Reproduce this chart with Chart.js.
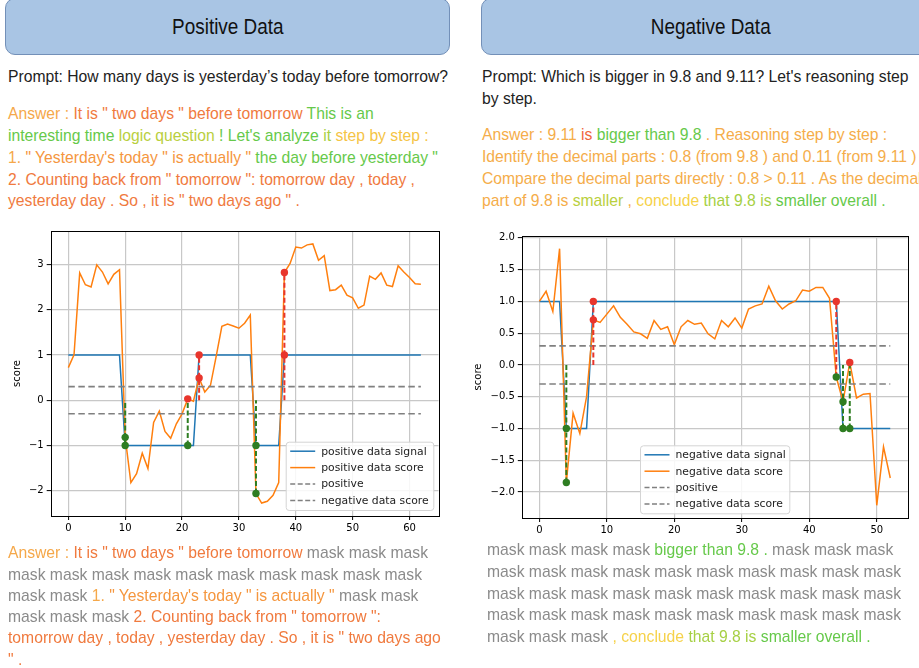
<!DOCTYPE html>
<html><head><meta charset="utf-8">
<script src="https://cdn.jsdelivr.net/npm/chart.js@4.4.1/dist/chart.umd.min.js"></script>
<style>
html,body{margin:0;padding:0;background:#fff;}
body{width:919px;height:668px;overflow:hidden;position:relative;}
.hdr{position:absolute;top:-2px;height:57px;background:#a9c5e4;border:1px solid #7390b8;border-radius:10px;box-sizing:border-box;display:flex;align-items:center;justify-content:center;font-family:"Liberation Sans",sans-serif;font-size:22px;color:#111;}
.hdr span{display:inline-block;transform:scaleX(0.86);}
.ln{position:absolute;white-space:nowrap;font-family:"Liberation Sans",Arial,sans-serif;font-size:15.7px;line-height:22px;height:22px;z-index:2;}
.k{color:#222}.a{color:#f5a84a}.r{color:#f07a3e}.g{color:#66c94a}.o{color:#b9cf3e}.y{color:#f5c445}.or{color:#f5963e}.m{color:#8b8b8b}.yg{color:#a6d044}.rd{color:#f0653c}.o2{color:#f5ad4a}.cy{color:#f6d24a}
.cv{position:absolute;z-index:1;}
</style></head><body>
<div class="hdr" style="left:5px;width:445px;"><span>Positive Data</span></div>
<div class="hdr" style="left:481px;width:460px;"><span>Negative Data</span></div>

<div class="ln k" style="left:8px;top:66px;">Prompt: How many days is yesterday’s today before tomorrow?</div>
<div class="ln" style="left:8px;top:103px;"><span class="a">Answer :</span><span class="r"> It is " two days " before tomorrow</span><span class="g"> This is an</span></div>
<div class="ln" style="left:8px;top:125px;"><span class="g">interesting time</span><span class="o"> logic question</span><span class="g"> ! Let's analyze</span><span class="yg"> it</span><span class="y"> step by step :</span></div>
<div class="ln" style="left:8px;top:147px;"><span class="a">1.</span><span class="or"> " Yesterday's today " is actually "</span><span class="g"> the day before yesterday "</span></div>
<div class="ln r" style="left:8px;top:168.5px;">2. Counting back from " tomorrow ": tomorrow day , today ,</div>
<div class="ln r" style="left:8px;top:190px;">yesterday day . So , it is " two days ago " .</div>

<div class="ln k" style="left:482px;top:66px;">Prompt: Which is bigger in 9.8 and 9.11? Let's reasoning step</div>
<div class="ln k" style="left:482px;top:88px;">by step.</div>
<div class="ln" style="left:482px;top:124px;"><span class="o2">Answer : 9.11</span><span class="rd"> is</span><span class="g"> bigger than 9.8</span><span class="o2"> . Reasoning step by step :</span></div>
<div class="ln o2" style="left:482px;top:146px;">Identify the decimal parts : 0.8 (from 9.8 ) and 0.11 (from 9.11 ) .</div>
<div class="ln o2" style="left:482px;top:168px;">Compare the decimal parts directly : 0.8 &gt; 0.11 . As the decimal</div>
<div class="ln" style="left:482px;top:189.5px;"><span class="o2">part of 9.8 is</span><span class="o"> smaller</span><span class="o2"> ,</span><span class="cy"> conclude</span><span class="yg"> that 9.8 is</span><span class="g"> smaller overall .</span></div>

<div class="ln" style="left:8px;top:542px;"><span class="a">Answer :</span><span class="r"> It is " two days " before tomorrow</span><span class="m"> mask mask mask</span></div>
<div class="ln m" style="left:8px;top:563.5px;">mask mask mask mask mask mask mask mask mask mask</div>
<div class="ln" style="left:8px;top:585px;"><span class="m">mask mask</span><span class="a"> 1.</span><span class="or"> " Yesterday's today " is actually "</span><span class="m"> mask mask</span></div>
<div class="ln" style="left:8px;top:606px;"><span class="m">mask mask mask</span><span class="r"> 2. Counting back from " tomorrow ":</span></div>
<div class="ln r" style="left:8px;top:627px;">tomorrow day , today , yesterday day . So , it is " two days ago</div>
<div class="ln r" style="left:8px;top:648.5px;">" .</div>

<div class="ln" style="left:487px;top:539px;"><span class="m">mask mask mask mask</span><span class="g"> bigger than 9.8 .</span><span class="m"> mask mask mask</span></div>
<div class="ln m" style="left:487px;top:561px;">mask mask mask mask mask mask mask mask mask mask</div>
<div class="ln m" style="left:487px;top:583px;">mask mask mask mask mask mask mask mask mask mask</div>
<div class="ln m" style="left:487px;top:604px;">mask mask mask mask mask mask mask mask mask mask</div>
<div class="ln" style="left:487px;top:626px;"><span class="m">mask mask mask</span><span class="cy"> , conclude</span><span class="yg"> that 9.8 is</span><span class="g"> smaller overall .</span></div>

<canvas id="posChart" class="cv" width="446" height="322" style="left:0px;top:222px;"></canvas>
<canvas id="negChart" class="cv" width="453" height="320" style="left:466px;top:227px;"></canvas>

<script>
// ---------------- DATA ----------------
const posSignal = [1,1,1,1,1,1,1,1,1,1,
  -1,-1,-1,-1,-1,-1,-1,-1,-1,-1,-1,-1,-1,
  1,1,1,1,1,1,1,1,1,1,
  -1,-1,-1,-1,-1,
  1,1,1,1,1,1,1,1,1,1,1,1,1,1,1,1,1,1,1,1,1,1,1,1,1];
const posScore = [0.72,1.0,2.81,2.55,2.5,2.99,2.83,2.57,2.78,2.88,
  -0.82,-1.82,-1.62,-1.17,-1.51,-0.49,-0.24,-0.69,-0.84,-0.52,
  -0.3,0.03,-0.02,0.49,0.18,0.33,0.97,1.63,1.68,1.64,
  1.59,1.7,1.88,-2.06,-2.27,-2.23,-2.1,-1.82,2.82,3.02,
  3.38,3.36,3.43,3.45,3.09,3.19,2.42,2.44,2.54,2.32,
  2.26,2.03,2.1,2.74,2.67,2.81,2.54,2.51,2.97,2.83,
  2.71,2.57,2.56];
const posHighlights = [10,21,23,33,38];

const negSignal = [1,1,1,1,-1,-1,-1,-1,
  1,1,1,1,1,1,1,1,1,1,1,1,1,1,1,1,1,1,1,1,1,1,1,1,1,1,1,1,1,1,1,1,1,1,1,1,1,
  -1,-1,-1,-1,-1,-1,-1,-1];
const negScore = [1.0,1.16,0.84,1.83,-1.85,-0.76,-1.08,-0.5,0.71,0.67,
  0.8,0.93,0.75,0.64,0.52,0.49,0.42,0.7,0.56,0.6,
  0.32,0.6,0.7,0.64,0.66,0.49,0.41,0.7,0.6,0.74,
  0.58,0.88,0.93,0.96,1.24,1.01,0.88,0.96,1.01,1.18,
  1.16,1.22,1.22,1.05,-0.19,-0.58,0.04,-0.52,-0.46,-0.45,
  -2.21,-1.29,-1.78];
const negHighlights = [4,8,44,45,46];

const thresholds = [0.3, -0.3];

const posXTicks = [0,10,20,30,40,50,60];
const posYTicks = [-2,-1,0,1,2,3];
const negXTicks = [0,10,20,30,40,50];
const negYTicks = [-2,-1.5,-1,-0.5,0,0.5,1,1.5,2];

const posLegendLabels = ['positive data signal','positive data score','positive','negative data score'];
const negLegendLabels = ['negative data signal','negative data score','positive','negative data score'];

// ---------------- STYLE ----------------
const BLUE = '#1f77b4', ORANGE = '#ff7f0e', GRAY = '#808080', RED = '#e8352c', GREEN = '#2e7d22';
const TICK_FONT = {family: 'DejaVu Sans', size: 10};

const framePlugin = {
  id: 'frame',
  afterDraw(chart) {
    const {ctx, chartArea: a} = chart;
    ctx.save();
    ctx.strokeStyle = '#000';
    ctx.lineWidth = 1;
    ctx.strokeRect(Math.round(a.left) + 0.5, Math.round(a.top) + 0.5, Math.round(a.right - a.left), Math.round(a.bottom - a.top));
    ctx.restore();
  }
};

const legendPlugin = {
  id: 'boxLegend',
  afterDraw(chart, args, opts) {
    const {ctx, chartArea: a} = chart;
    const w = opts.width, h = opts.height;
    const x0 = opts.anchor === 'right' ? a.right - opts.dx - w : a.left + opts.dx;
    const y0 = a.bottom - opts.dy - h;
    ctx.save();
    ctx.beginPath();
    ctx.roundRect(x0 + 0.5, y0 + 0.5, w, h, 3);
    ctx.fillStyle = 'rgba(255,255,255,0.85)';
    ctx.fill();
    ctx.strokeStyle = '#d4d4d4';
    ctx.lineWidth = 1;
    ctx.stroke();
    const styles = [
      {c: BLUE, dash: []}, {c: ORANGE, dash: []},
      {c: GRAY, dash: [5, 2.5]}, {c: GRAY, dash: [5, 2.5]}
    ];
    ctx.font = '10.8px "DejaVu Sans"';
    ctx.textBaseline = 'middle';
    opts.labels.forEach((lab, i) => {
      const yy = y0 + 9.5 + i * 16.4;
      ctx.beginPath();
      ctx.setLineDash(styles[i].dash);
      ctx.strokeStyle = styles[i].c;
      ctx.lineWidth = 1.5;
      ctx.moveTo(x0 + 4.5, yy);
      ctx.lineTo(x0 + 29.5, yy);
      ctx.stroke();
      ctx.setLineDash([]);
      ctx.fillStyle = '#222';
      ctx.fillText(lab, x0 + 35.5, yy + 0.5);
    });
    ctx.restore();
  }
};

function fmtTick(v, decimals) {
  const s = decimals ? v.toFixed(decimals) : String(v);
  return s.replace('-', '\u2212');
}

function build(id, signal, score, highlights, xTicks, yTicks, decimals, limits, layout, legend) {
  const xs = signal.map((_, i) => i);
  const last = xs[xs.length - 1];
  const datasets = [];
  const dotPts = [], dotCols = [];
  highlights.forEach(i => {
    [signal[i], score[i]].forEach(v => {
      dotPts.push({x: i, y: v});
      dotCols.push(v > 0 ? RED : GREEN);
    });
  });
  datasets.push({data: dotPts, showLine: false, pointRadius: 3.7, pointBorderWidth: 0,
    pointBackgroundColor: dotCols, pointBorderColor: dotCols, order: 0});
  highlights.forEach(i => {
    const lo = Math.min(0, signal[i], score[i]);
    const hi = Math.max(0, signal[i], score[i]);
    datasets.push({data: [{x: i, y: lo}, {x: i, y: hi}], showLine: true, pointRadius: 0,
      borderColor: signal[i] > 0 ? RED : GREEN, borderWidth: 2, borderDash: [5, 2.5], order: 1});
  });
  thresholds.forEach(t => {
    datasets.push({data: [{x: 0, y: t}, {x: last, y: t}], showLine: true, pointRadius: 0,
      borderColor: GRAY, borderWidth: 1.6, borderDash: [6.5, 3.5], order: 2});
  });
  datasets.push({data: xs.map(i => ({x: i, y: score[i]})), showLine: true, pointRadius: 0,
    borderColor: ORANGE, borderWidth: 1.5, order: 3});
  datasets.push({data: xs.map(i => ({x: i, y: signal[i]})), showLine: true, pointRadius: 0,
    borderColor: BLUE, borderWidth: 1.5, order: 4});

  const gridOpts = {color: '#c8c8c8', lineWidth: 1.2, tickColor: '#000', tickLength: 4, tickWidth: 1, drawTicks: true};
  return new Chart(document.getElementById(id), {
    type: 'scatter',
    data: {datasets},
    plugins: [framePlugin, legendPlugin],
    options: {
      responsive: false, animation: false, devicePixelRatio: 1,
      layout: {padding: layout.padding},
      plugins: {legend: {display: false}, tooltip: {enabled: false}, boxLegend: legend},
      elements: {line: {tension: 0}},
      scales: {
        x: {type: 'linear', min: limits.xmin, max: limits.xmax,
          afterBuildTicks: s => { s.ticks = xTicks.map(v => ({value: v})); },
          afterFit: s => { s.height = layout.xh; },
          grid: gridOpts, border: {display: false},
          ticks: {font: TICK_FONT, color: '#000', padding: 2, maxRotation: 0, autoSkip: false,
            callback: v => fmtTick(v, 0)}},
        y: {type: 'linear', min: limits.ymin, max: limits.ymax,
          afterBuildTicks: s => { s.ticks = yTicks.map(v => ({value: v})); },
          afterFit: s => { s.width = layout.yw; },
          grid: gridOpts, border: {display: false},
          title: {display: true, text: 'score', font: TICK_FONT, color: '#000', padding: {top: layout.titlePad, bottom: 0}},
          ticks: {font: TICK_FONT, color: '#000', padding: 3, autoSkip: false,
            callback: v => fmtTick(v, decimals)}}
      }
    }
  });
}

build('posChart', posSignal, posScore, posHighlights, posXTicks, posYTicks, 0,
  {xmin: -3.1, xmax: 65.1, ymin: -2.556, ymax: 3.736},
  {padding: {top: 5, right: 7.5, left: 0, bottom: 0}, xh: 28, yw: 50.7, titlePad: 11},
  {labels: posLegendLabels, anchor: 'right', dx: 5.2, dy: 6, width: 147.6, height: 68.3});

build('negChart', negSignal, negScore, negHighlights, negXTicks, negYTicks, 1,
  {xmin: -2.6, xmax: 54.6, ymin: -2.41, ymax: 2.03},
  {padding: {top: 5, right: 11.2, left: 0, bottom: 0}, xh: 29, yw: 55.8, titlePad: 6},
  {labels: negLegendLabels, anchor: 'left', dx: 118.2, dy: 4.7, width: 149.3, height: 68});
</script>
</body></html>
